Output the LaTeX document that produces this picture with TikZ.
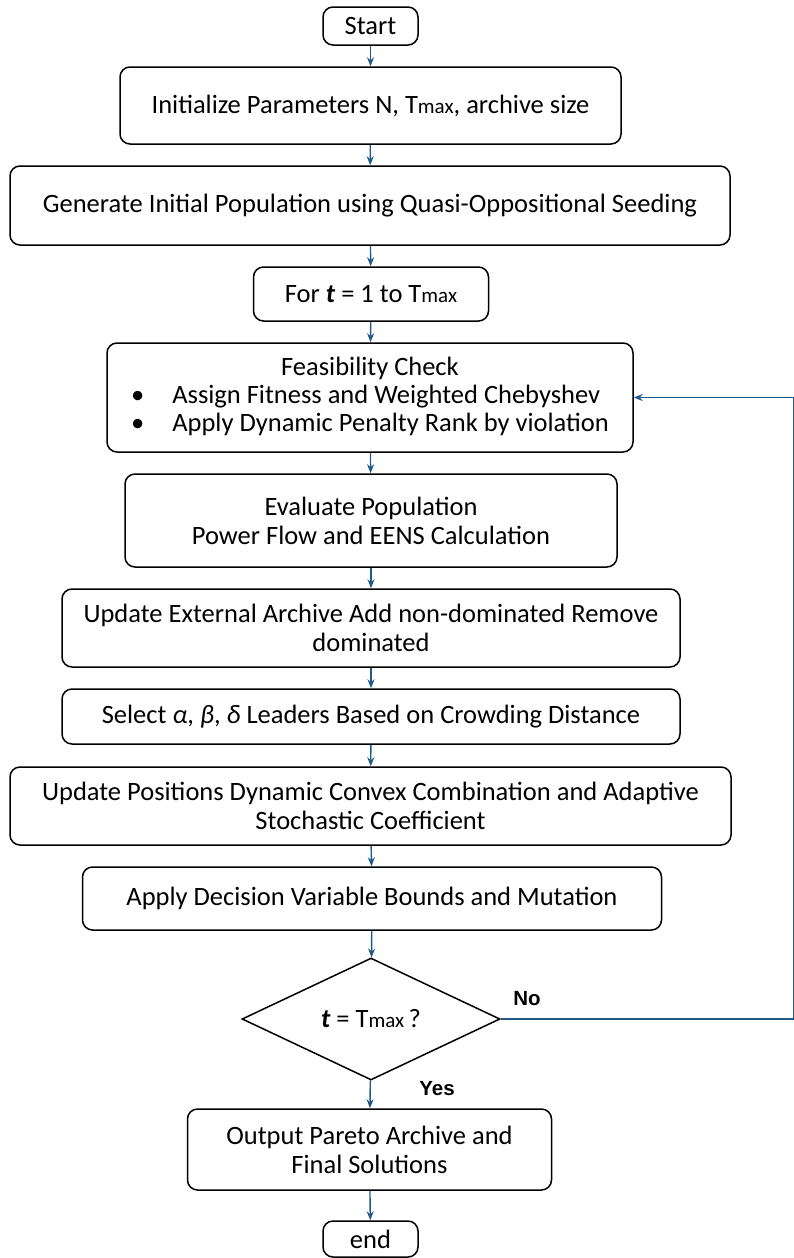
\documentclass[tikz,border=0pt]{standalone}
\usepackage{fontspec}
\setmainfont{Carlito}
\newfontfamily\lblfont{Liberation Sans}
\usetikzlibrary{shapes.geometric,arrows.meta}
\definecolor{arrowc}{HTML}{1F5B86}
\newcommand\Tmx{T{\fontsize{21}{24}\selectfont max}}
\newcommand\tvar{\textbf{\textit{t}}}
\begin{document}
\begin{tikzpicture}[x=1pt,y=-1pt,
  box/.style={draw, rounded corners=10pt, line width=1.5pt, align=center, inner sep=0pt,
    font=\fontsize{26.5}{29}\selectfont},
  dia/.style={draw, diamond, line width=1.5pt, inner sep=0pt, align=center,
    font=\fontsize{26.5}{29}\selectfont},
  arr/.style={-{Stealth[length=9pt,width=7pt]}, draw=arrowc, line width=1.4pt},
  lbl/.style={font=\lblfont\fontsize{20.5}{24}\selectfont\bfseries}]
\useasboundingbox (0,0) rectangle (794,1258);
\node[box, minimum width=95pt, minimum height=38pt] (start) at (370.5,26) {Start};
\node[box, minimum width=501pt, minimum height=77pt] (init) at (370.5,105.5) {Initialize Parameters N, \Tmx, archive size};
\node[box, minimum width=720pt, minimum height=79pt] (gen) at (370,205.5) {Generate Initial Population using Quasi-Oppositional Seeding};
\node[box, minimum width=235pt, minimum height=54pt] (for) at (371,294) {For \tvar{} = 1 to \Tmx};
\node[box, minimum width=526pt, minimum height=109pt] (feas) at (370,397.5) {%
  \begin{tabular}{@{}l@{\hspace{28pt}}l@{}}
  \multicolumn{2}{c}{Feasibility Check}\\[-1pt]
  • & Assign Fitness and Weighted Chebyshev\\[-1pt]
  • & Apply Dynamic Penalty Rank by violation
  \end{tabular}};
\node[box, minimum width=492pt, minimum height=93pt] (eval) at (371,520.5) {Evaluate Population\\Power Flow and EENS Calculation};
\node[box, minimum width=618pt, minimum height=78pt] (arch) at (371,628) {Update External Archive Add non-dominated Remove\\dominated};
\node[box, minimum width=618pt, minimum height=55pt] (sel) at (371,716.5) {Select \textit{α}, \textit{β}, \textit{δ} Leaders Based on Crowding Distance};
\node[box, minimum width=721pt, minimum height=78pt] (pos) at (370.5,806) {Update Positions Dynamic Convex Combination and Adaptive\\Stochastic Coefficient};
\node[box, minimum width=579pt, minimum height=63pt] (mut) at (372,898.5) {Apply Decision Variable Bounds and Mutation};
\node[dia, minimum width=258pt, minimum height=122pt] (chk) at (371,1019) {\tvar{} = \Tmx\,?};
\node[box, minimum width=364pt, minimum height=81pt] (out) at (369.5,1149.5) {Output Pareto Archive and\\Final Solutions};
\node[box, minimum width=95pt, minimum height=36pt] (end) at (370.5,1239) {end};
\node[lbl] (no) at (527,999) {No};
\node[lbl] (yes) at (437,1089) {Yes};
\coordinate (loopR) at (793.5,1019);
\draw[arr] (start) -- (init);
\draw[arr] (init) -- (gen);
\draw[arr] (gen) -- (for);
\draw[arr] (for) -- (feas);
\draw[arr] (feas) -- (eval);
\draw[arr] (eval) -- (arch);
\draw[arr] (arch) -- (sel);
\draw[arr] (sel) -- (pos);
\draw[arr] (pos) -- (mut);
\draw[arr] (mut) -- (chk);
\draw[arr] (chk) -- (out);
\draw[arr] (out) -- (end);
\draw[arr] (chk.east) -- (loopR) |- (feas.east);
\end{tikzpicture}
\end{document}
